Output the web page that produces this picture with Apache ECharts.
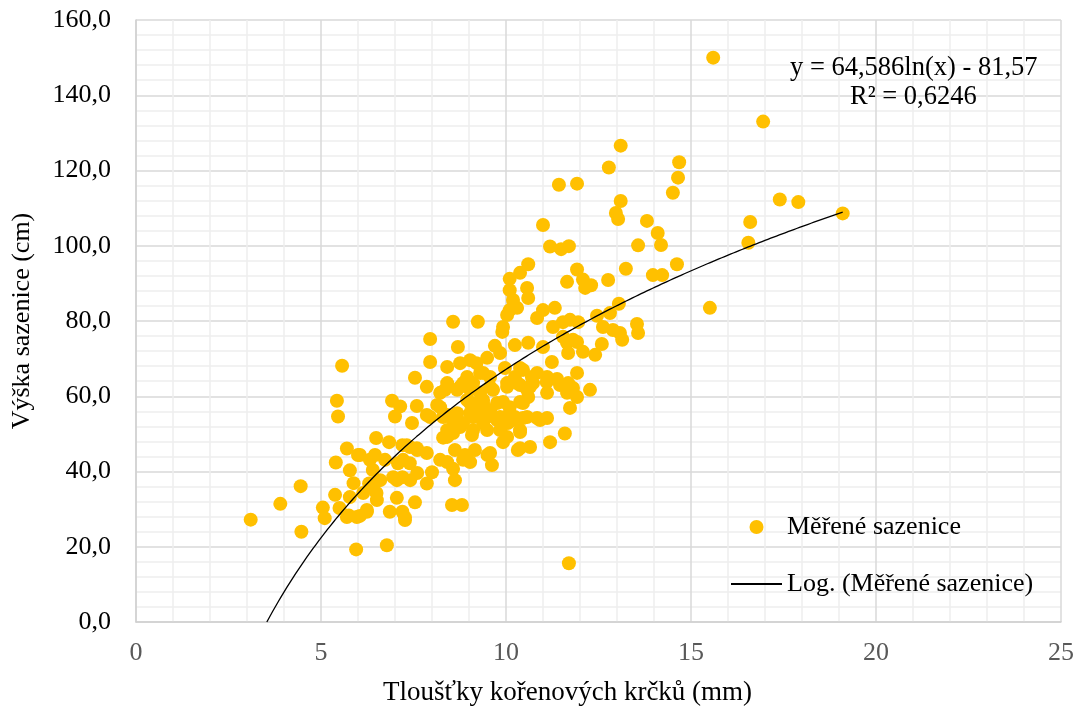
<!DOCTYPE html>
<html>
<head>
<meta charset="utf-8">
<script src="https://cdn.jsdelivr.net/npm/echarts@6/dist/echarts.min.js"></script>
<style>
html,body{margin:0;padding:0;background:#fff;}
#chart{width:1080px;height:711px;}
</style>
</head>
<body>
<div id="chart"></div>
<script>
// ---- data ----
const seriesName = 'Měřené sazenice';
const trendName = 'Log. (Měřené sazenice)';
const xTitle = 'Tloušťky kořenových krčků (mm)';
const yTitle = 'Výška sazenice (cm)';
const xTicks = [0, 5, 10, 15, 20, 25];
const yTicks = [0, 20, 40, 60, 80, 100, 120, 140, 160];
// trendline shown in the chart: y = 64,586 ln(x) - 81,57 ; R² = 0,6246
const trendA = 64.586;
const trendB = -81.57;
const trendR2 = '0,6246';
const trendXMax = 19.1;

// measured seedlings [root collar thickness (mm), height (cm)]
const measured = [
[3.1,27.2],[3.9,31.4],[4.45,36.1],[4.47,24.0],[5.05,30.4],[5.1,27.6],[5.38,33.8],[5.4,42.4],[5.43,58.8],[5.46,54.6],
[5.57,68.1],[5.7,46.1],[5.78,40.3],[5.88,36.9],[5.75,28.3],[5.95,19.3],[6.05,44.4],[6.05,28.2],[6.14,34.3],[6.24,29.3],
[6.3,36.8],[6.4,40.4],[6.46,44.4],[6.49,48.9],[6.51,32.4],[6.6,37.7],[6.73,43.1],[6.78,20.4],[6.84,47.8],[6.86,29.3],
[6.92,58.8],[6.95,38.5],[7.0,54.6],[7.05,33.0],[7.05,37.7],[7.08,42.2],[7.14,57.3],[7.2,38.5],[7.22,43.1],[7.27,27.8],
[7.2,29.3],[7.32,47.0],[7.41,37.7],[7.4,42.2],[7.46,52.9],[7.54,64.9],[7.54,31.8],[7.59,57.4],[7.59,46.2],[7.6,39.6],
[7.86,62.5],[7.86,55.0],[7.86,44.9],[7.95,75.2],[7.95,69.1],[7.95,54.5],[8.0,39.8],[8.14,57.7],[8.22,60.9],[8.22,57.1],
[8.22,43.1],[8.3,54.5],[8.35,61.7],[8.41,67.8],[8.41,63.5],[8.41,55.0],[8.41,51.0],[8.41,49.2],[8.41,42.5],[8.54,31.1],
[8.57,79.8],[8.57,53.7],[8.57,50.2],[8.57,40.7],[8.62,45.7],[8.62,37.7],[8.7,73.1],[8.68,61.7],[8.68,55.5],[8.76,68.8],
[8.76,62.5],[8.76,51.8],[8.81,31.1],[8.84,63.5],[8.84,52.9],[8.84,43.1],[8.89,44.4],[8.95,65.1],[8.95,59.0],[9.03,69.6],
[9.03,61.7],[9.03,55.5],[9.03,42.5],[9.08,49.7],[9.1,58.2],[9.11,63.5],[9.11,54.5],[9.11,51.0],[9.16,45.7],[9.2,68.8],
[9.24,79.8],[9.3,66.2],[9.3,60.9],[9.3,55.5],[9.38,66.2],[9.38,59.0],[9.38,52.9],[9.49,70.2],[9.49,54.5],[9.49,51.0],
[9.5,44.4],[9.57,65.1],[9.57,62.5],[9.57,56.3],[9.57,44.9],[9.62,41.7],[9.65,61.7],[9.7,73.4],[9.76,58.2],[9.76,53.7],
[9.84,71.5],[9.84,54.5],[9.84,51.0],[9.9,77.1],[9.92,78.4],[9.92,58.5],[9.92,47.8],[9.97,67.5],[10.03,81.6],[10.03,63.5],
[10.03,49.2],[10.05,52.9],[10.1,91.2],[10.1,88.2],[10.1,82.9],[10.1,57.1],[10.1,55.5],[10.19,85.6],[10.19,53.7],[10.24,73.6],
[10.24,65.1],[10.24,54.5],[10.3,83.5],[10.3,63.5],[10.32,45.7],[10.38,92.8],[10.38,67.5],[10.38,63.0],[10.38,58.5],[10.38,51.0],
[10.38,46.2],[10.46,67.0],[10.46,58.2],[10.46,54.2],[10.57,88.8],[10.57,61.7],[10.6,95.1],[10.6,86.1],[10.6,74.2],[10.6,59.8],
[10.65,62.5],[10.65,46.5],[10.7,65.1],[10.73,63.5],[10.84,80.8],[10.84,66.2],[10.84,54.2],[10.92,53.7],[11.0,105.5],[11.0,82.9],
[11.0,73.1],[11.1,63.8],[11.11,65.1],[11.11,60.9],[11.11,54.2],[11.19,99.8],[11.19,47.8],[11.24,69.1],[11.27,78.4],[11.32,83.5],
[11.38,64.6],[11.43,116.2],[11.46,63.0],[11.49,99.1],[11.54,79.7],[11.54,75.8],[11.59,50.1],[11.65,90.4],[11.65,74.2],[11.65,60.9],
[11.68,71.5],[11.68,63.5],[11.7,99.9],[11.7,15.6],[11.73,80.3],[11.73,56.9],[11.81,75.0],[11.81,62.2],[11.92,116.5],[11.92,93.7],
[11.92,74.4],[11.92,66.2],[11.92,59.8],[11.95,79.7],[12.08,91.0],[12.08,71.8],[12.14,88.8],[12.3,89.5],[12.27,61.7],[12.41,71.0],
[12.46,81.4],[12.59,73.9],[12.62,78.4],[12.76,90.9],[12.78,120.8],[12.81,82.1],[12.89,77.6],[12.97,108.7],[13.03,107.1],[13.05,84.6],
[13.1,126.6],[13.1,111.9],[13.14,75.0],[13.08,76.8],[13.24,93.9],[13.54,79.2],[13.57,76.8],[13.57,100.1],[13.81,106.6],[13.97,92.2],
[14.1,103.4],[14.19,100.2],[14.22,92.2],[14.51,114.1],[14.62,95.1],[14.65,118.1],[14.68,122.2],[15.51,83.5],[15.6,150.0],[16.55,100.8],
[16.6,106.3],[16.95,133.0],[17.4,112.3],[17.9,111.6],[19.1,108.6],
[10.03,62.5],[9.03,58.2],[9.38,58.2],[10.57,54.5],[10.38,50.5],[6.32,43.1],[6.5,34.3],[7.2,47.0],[7.4,46.5],[7.6,45.7],
[6.4,35.9],[5.5,30.3],[5.7,27.9],[5.97,27.9],[6.24,29.8],[5.78,33.2],[7.27,27.1],[6.0,44.4],[7.86,36.8],[8.3,49.0]
];

// ---- trendline points from the displayed coefficients ----
const trendXMin = Math.exp(-trendB / trendA);
const trendPts = [];
for (let i = 0; i <= 200; i++) {
  const x = trendXMin + (trendXMax - trendXMin) * i / 200;
  trendPts.push([x, trendA * Math.log(x) + trendB]);
}
const fmtComma = (v, d) => v.toFixed(d).replace('.', ',');

const FONT = '"Liberation Serif","Times New Roman",serif';
const chart = echarts.init(document.getElementById('chart'), null, {renderer: 'canvas'});
chart.setOption({
  backgroundColor: '#ffffff',
  animation: false,
  grid: {left: 136, right: 19, top: 20, bottom: 89, containLabel: false, outerBoundsMode: 'none'},
  xAxis: {
    type: 'value', min: xTicks[0], max: xTicks[xTicks.length - 1], interval: xTicks[1] - xTicks[0],
    name: xTitle, nameLocation: 'middle', nameGap: 57,
    nameTextStyle: {fontFamily: FONT, fontSize: 27, color: '#000', padding: [0, 62, 0, 0]},
    axisLine: {show: true, lineStyle: {color: '#d0d0d0', width: 1.5}},
    axisTick: {show: false},
    axisLabel: {fontFamily: FONT, fontSize: 26, color: '#595959', margin: 18},
    splitLine: {show: true, lineStyle: {color: '#d9d9d9', width: 1.5}},
    minorTick: {show: false, splitNumber: 5},
    minorSplitLine: {show: true, lineStyle: {color: '#eeeeee', width: 1.5}}
  },
  yAxis: {
    type: 'value', min: yTicks[0], max: yTicks[yTicks.length - 1], interval: yTicks[1] - yTicks[0],
    name: yTitle, nameLocation: 'middle', nameGap: 101, nameRotate: 90,
    nameTextStyle: {fontFamily: FONT, fontSize: 26, color: '#000'},
    axisLine: {show: true, lineStyle: {color: '#d0d0d0', width: 1.5}},
    axisTick: {show: false},
    axisLabel: {fontFamily: FONT, fontSize: 26, color: '#000', margin: 25,
      formatter: v => fmtComma(v, 1)},
    splitLine: {show: true, lineStyle: {color: '#d9d9d9', width: 1.5}},
    minorTick: {show: false, splitNumber: 5},
    minorSplitLine: {show: true, lineStyle: {color: '#eeeeee', width: 1.5}}
  },
  legend: {
    orient: 'vertical', left: 725, top: 509, itemWidth: 51, itemHeight: 14, itemGap: 31,
    textStyle: {fontFamily: FONT, fontSize: 26, color: '#000'},
    data: [
      {name: seriesName, icon: 'circle'},
      {name: trendName, itemStyle: {color: 'rgba(0,0,0,0)', opacity: 0, borderWidth: 0}}
    ]
  },
  series: [
    {
      name: seriesName, type: 'scatter', data: measured, symbol: 'circle', symbolSize: 14,
      itemStyle: {color: '#FFC000', opacity: 1}, z: 2
    },
    {
      name: trendName, type: 'line', data: trendPts, showSymbol: false, symbol: 'none',
      lineStyle: {color: '#000000', width: 1.3}, itemStyle: {color: '#000000'}, z: 3, silent: true
    }
  ],
  graphic: [
    {type: 'text', x: 790, y: 68, z: 10,
      style: {text: 'y = ' + fmtComma(trendA, 3) + 'ln(x) - ' + fmtComma(-trendB, 2),
        fontFamily: FONT, fontSize: 26.5, fill: '#000', verticalAlign: 'middle', align: 'left'}},
    {type: 'text', x: 850, y: 97, z: 10,
      style: {text: 'R² = ' + trendR2,
        fontFamily: FONT, fontSize: 26.5, fill: '#000', verticalAlign: 'middle', align: 'left'}}
  ]
});
</script>
</body>
</html>
